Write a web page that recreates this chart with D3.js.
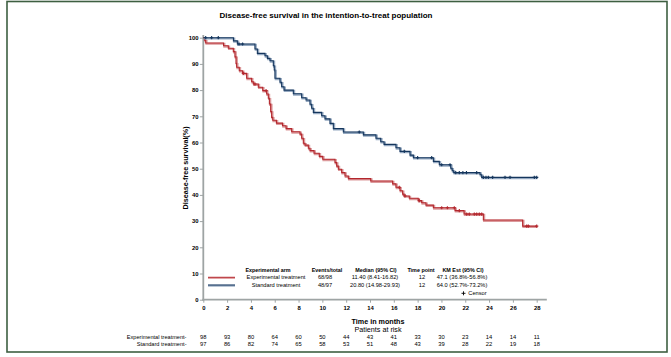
<!DOCTYPE html>
<html><head><meta charset="utf-8">
<script src="https://cdn.jsdelivr.net/npm/d3@7"></script>
<style>
html,body{margin:0;padding:0;background:#fff;}
svg{display:block;font-family:"Liberation Sans",Arial,sans-serif;}
</style></head>
<body><svg id="c" width="671" height="357"></svg>
<script>
// ---------- data ----------
const timeTicks = [0,2,4,6,8,10,12,14,16,18,20,22,24,26,28];
const survTicks = [0,10,20,30,40,50,60,70,80,90,100];

const expTimes = [0,0.1,0.2,1.7,2.1,2.52,2.66,2.75,2.8,3.02,3.3,3.64,4.06,4.2,4.62,4.99,5.32,5.46,5.55,5.66,5.74,5.83,6.14,6.65,6.95,7.42,8.12,8.26,8.4,8.54,8.82,8.96,9.3,9.74,10.03,11.06,11.2,11.34,11.62,11.9,12.18,14.06,15.9,16.18,16.52,16.74,16.86,17.3,18.05,18.34,18.7,19.32,21.14,21.9,23.52,26.82,28.0];
const expSurv  = [100,99.0,98.0,96.9,96.0,94.7,92.7,90.2,88.7,87.4,86.4,84.5,83.2,82.3,81.1,79.8,78.5,76.9,74.7,71.8,69.6,68.5,67.4,66.4,65.3,64.1,63.2,61.6,59.7,59.0,57.8,56.9,55.9,54.7,53.6,52.3,51.0,49.8,48.5,47.2,46.2,45.3,44.2,42.9,41.6,40.3,39.6,38.7,37.8,37.0,36.1,35.1,34.0,32.7,30.4,28.1,28.1];
const expCensor = [3.36,4.34,5.27,16.46,16.94,18.14,20.02,20.5,21.08,21.5,22.12,22.34,22.76,22.96,23.18,23.38,27.16,27.3,28.0];

const stdTimes = [0,2.53,2.86,4.34,4.54,5.18,5.38,5.6,5.88,5.96,6.02,6.44,6.58,6.78,7.56,8.26,8.63,8.96,9.1,9.24,9.94,10.22,10.64,10.92,11.76,13.44,14.5,14.9,15.18,16.18,16.52,17.36,17.64,19.32,19.82,20.78,20.9,21.03,23.24,23.38,28.0];
const stdSurv  = [100,98.8,97.6,95.7,94.0,93.1,92.1,91.2,89.3,87.7,84.5,83.0,81.3,80.0,78.6,77.1,76.2,74.6,73.1,71.5,70.2,69.0,67.3,65.3,64.0,62.9,61.6,60.3,59.3,58.0,56.6,55.2,54.2,52.8,51.5,50.2,49.2,48.5,47.7,46.7,46.7];
const stdCensor = [0.2,0.7,1.26,3.0,3.3,13.1,16.88,18.0,19.18,20.02,20.72,21.2,21.5,21.8,22.1,22.96,23.52,23.74,23.94,24.3,25.34,25.76,27.8,28.0];

const armNames = ["Experimental treatment","Standard treatment"];
const legendHeaders = ["Experimental arm","Events/total","Median (95% CI)","Time point","KM Est (95% CI)"];
const eventsTotal = ["68/98","48/97"];
const medians = ["11.40 (8.41-16.82)","20.80 (14.98-29.93)"];
const timePoints = ["12","12"];
const kmEst = ["47.1 (36.8%-56.8%)","64.0 (52.7%-73.2%)"];
const riskExp = [98,93,80,64,60,50,44,43,41,33,30,23,14,14,11];
const riskStd = [97,86,82,74,65,58,53,51,48,43,39,28,22,19,18];

// ---------- drawing ----------
const svg = d3.select("#c");
svg.append("rect").attr("width",671).attr("height",357).attr("fill","#fff");
// frame
svg.append("rect").attr("x",7).attr("y",1.5).attr("width",660).attr("height",350.5)
  .attr("fill","none").attr("stroke","#3e5f41").attr("stroke-width",1.6);

const x = d3.scaleLinear().domain([0,28]).range([203.3,536.7]);
const y = d3.scaleLinear().domain([0,100]).range([299.7,37.7]);
const axisCol = "#9ea4a4";

svg.append("text").attr("x",326).attr("y",17.5).attr("text-anchor","middle")
  .attr("font-size",8).attr("font-weight","bold").text("Disease-free survival in the intention-to-treat population");

// y axis
const ya = svg.append("g").attr("transform",`translate(${x(0)},0)`)
  .call(d3.axisLeft(y).tickValues(survTicks).tickSize(3.5).tickPadding(1.2));
ya.select(".domain").remove();
ya.selectAll(".tick line").attr("stroke",axisCol).attr("stroke-width",1);
ya.selectAll(".tick text").attr("font-size",5.9).attr("font-weight","bold").attr("fill","#000").attr("font-family",null);
svg.append("line").attr("x1",x(0)).attr("x2",x(0)).attr("y1",y(101)).attr("y2",y(0)+1)
  .attr("stroke",axisCol).attr("stroke-width",1.8);

// x axis
const xa = svg.append("g").attr("transform",`translate(0,${y(0)})`)
  .call(d3.axisBottom(x).tickValues(timeTicks).tickSize(3).tickPadding(3));
xa.select(".domain").remove();
xa.selectAll(".tick line").attr("stroke",axisCol).attr("stroke-width",1);
xa.selectAll(".tick text").attr("font-size",5.9).attr("font-weight","bold").attr("fill","#000").attr("font-family",null);
svg.append("line").attr("x1",x(0)-1).attr("x2",x(28.85)).attr("y1",y(0)).attr("y2",y(0))
  .attr("stroke",axisCol).attr("stroke-width",1.8);

svg.append("text").attr("transform",`translate(185,168) rotate(-90)`).attr("text-anchor","middle")
  .attr("dy","0.35em").attr("font-size",7.2).attr("font-weight","bold").text("Disease-free survival(%)");

// curves
const line = d3.line().x(d=>x(d[0])).y(d=>y(d[1])).curve(d3.curveStepAfter);
function stepAt(times, surv, t){ let v = surv[0]; for(let i=0;i<times.length;i++){ if(times[i]<=t) v=surv[i]; } return v; }
function drawArm(times, surv, cens, core, halo){
  const pts = times.map((t,i)=>[t,surv[i]]);
  svg.append("path").attr("d",line(pts)).attr("fill","none").attr("stroke",halo)
    .attr("stroke-width",2.2).attr("transform","translate(0.8,0.8)");
  svg.append("path").attr("d",line(pts)).attr("fill","none").attr("stroke",core).attr("stroke-width",1.1);
  const g = svg.append("g");
  cens.forEach(t=>{
    const cx = x(t), cy = y(stepAt(times,surv,t));
    g.append("path").attr("d",`M${cx-1.6},${cy}H${cx+1.6}M${cx},${cy-1.6}V${cy+1.6}`)
      .attr("stroke",core).attr("stroke-width",1.1);
  });
}
drawArm(expTimes, expSurv, expCensor, "#b3272d", "#dc9a9c");
drawArm(stdTimes, stdSurv, stdCensor, "#15365d", "#95a9c1");

// legend
const colX = [268,327,376,421,463];
const legY = [270,277.3,285];
legendHeaders.forEach((h,i)=>svg.append("text").attr("x",colX[i]).attr("y",legY[0]).attr("dy","0.35em")
  .attr("text-anchor","middle").attr("font-size",5.4).attr("font-weight","bold").text(h));
const rowCols = [armNames, eventsTotal, medians, timePoints, kmEst];
[0,1].forEach(r=>{
  const cxs = [276,325,375,422,462];
  rowCols.forEach((col,i)=>svg.append("text").attr("x",cxs[i]).attr("y",legY[r+1]).attr("dy","0.35em")
    .attr("text-anchor","middle").attr("font-size",5.7).text(col[r]));
});
[["#b3272d","#e09a9c"],["#15365d","#8ea2bb"]].forEach((c,r)=>{
  svg.append("line").attr("x1",208).attr("x2",235).attr("y1",legY[r+1]+0.6).attr("y2",legY[r+1]+0.6)
    .attr("stroke",c[1]).attr("stroke-width",2);
  svg.append("line").attr("x1",208).attr("x2",235).attr("y1",legY[r+1]).attr("y2",legY[r+1])
    .attr("stroke",c[0]).attr("stroke-width",0.9);
});
svg.append("path").attr("d","M461.5,293.3H465.5M463.5,291.3V295.3").attr("stroke","#000").attr("stroke-width",0.9);
svg.append("text").attr("x",468.3).attr("y",293.3).attr("dy","0.35em").attr("font-size",5.7).text("Censor");

// axis title and risk table
svg.append("text").attr("x",378).attr("y",321.7).attr("dy","0.35em").attr("text-anchor","middle")
  .attr("font-size",7.2).attr("font-weight","bold").text("Time in months");
svg.append("text").attr("x",378).attr("y",329.5).attr("dy","0.35em").attr("text-anchor","middle")
  .attr("font-size",7.2).text("Patients at risk");
const riskY = [337.3,343.7];
[riskExp, riskStd].forEach((row,r)=>{
  svg.append("text").attr("x",186.5).attr("y",riskY[r]).attr("dy","0.35em").attr("text-anchor","end")
    .attr("font-size",5.6).text(armNames[r]+"-");
  row.forEach((v,i)=>svg.append("text").attr("x",x(timeTicks[i])).attr("y",riskY[r]).attr("dy","0.35em")
    .attr("text-anchor","middle").attr("font-size",5.8).text(v));
});
</script></body></html>
